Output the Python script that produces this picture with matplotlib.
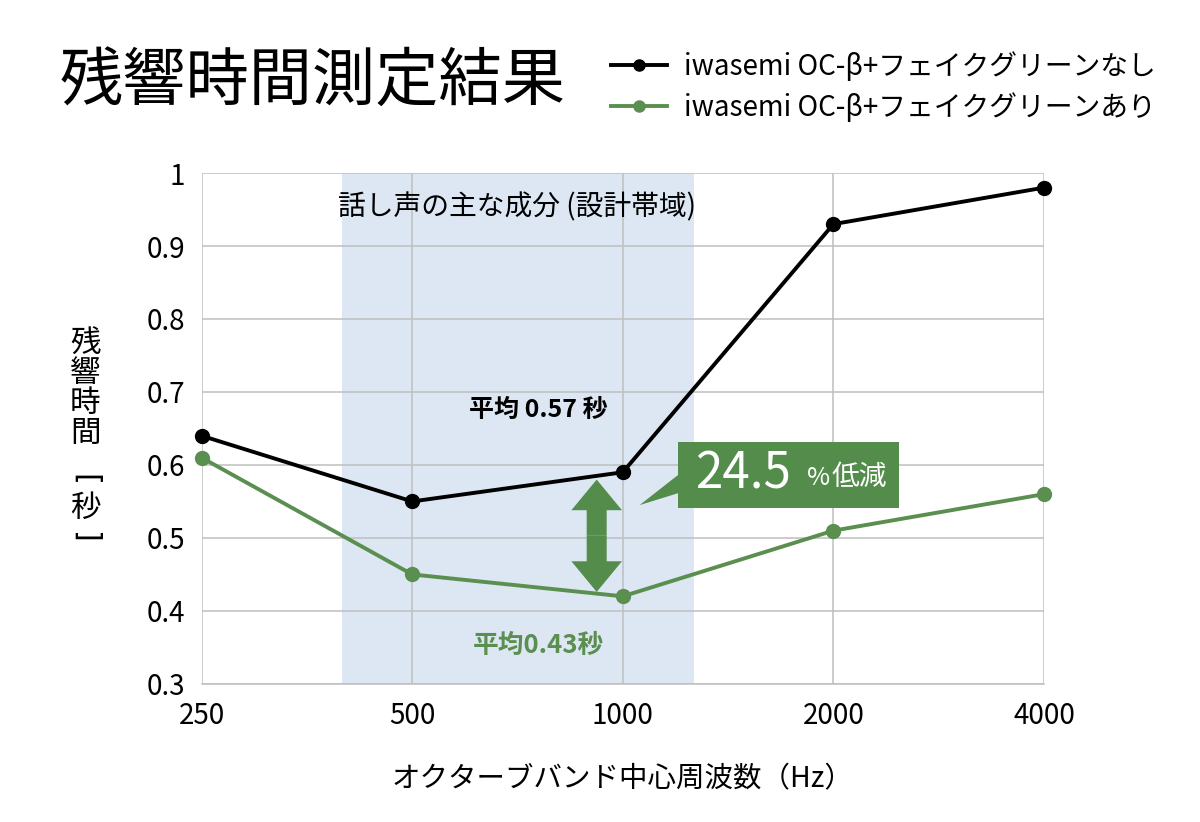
import matplotlib
matplotlib.use('Agg')
import matplotlib.pyplot as plt
from matplotlib.patches import Rectangle, FancyArrow, Polygon

plt.rcParams['font.family'] = ['Noto Sans CJK JP', 'DejaVu Sans']

# data
freqs = ['250', '500', '1000', '2000', '4000']
rt_without = [0.64, 0.55, 0.59, 0.93, 0.98]
rt_with = [0.61, 0.45, 0.42, 0.51, 0.56]
yticks = [0.3, 0.4, 0.5, 0.6, 0.7, 0.8, 0.9, 1.0]
ytick_labels = ['0.3', '0.4', '0.5', '0.6', '0.7', '0.8', '0.9', '1']
label_without = 'iwasemi OC-β+フェイクグリーンなし'
label_with = 'iwasemi OC-β+フェイクグリーンあり'
band = (0.665, 2.34)

green = '#5a8f50'
box_green = '#548c4c'
x = list(range(len(freqs)))

fig = plt.figure(figsize=(12, 8.22), dpi=100)
ax = fig.add_axes([0.168, 0.168, 0.702, 0.6215])

ax.axvspan(band[0], band[1], color='#dce7f3', zorder=0, lw=0)
ax.plot(x, rt_without, color='black', lw=2.8, marker='o', ms=10, label=label_without,
        zorder=3, clip_on=False)
ax.plot(x, rt_with, color=green, lw=2.8, marker='o', ms=10, label=label_with,
        zorder=3, clip_on=False)

ax.set_xlim(0, 4)
ax.set_ylim(0.3, 1.0)
ax.set_xticks(x)
ax.set_xticklabels(freqs, fontsize=20)
ax.set_yticks(yticks)
ax.set_yticklabels(ytick_labels, fontsize=20)
ax.tick_params(length=0, pad=12)
ax.grid(True, color='#bfbfbf', lw=1.1, zorder=1)
ax.set_axisbelow(True)
for s in ['top', 'right', 'left']:
    ax.spines[s].set_visible(False)
ax.spines['bottom'].set_color('#bfbfbf')
ax.spines['bottom'].set_linewidth(1.1)

ax.set_xlabel('オクターブバンド中心周波数（Hz）', fontsize=20.5, labelpad=24)

# vertical y label
fig.text(0.071, 0.527, '\n'.join('残響時間'), fontsize=22, ha='center', va='center',
         linespacing=0.95)
fig.text(0.071, 0.416, '[', fontsize=22, ha='center', va='center', rotation=-90,
         family='DejaVu Sans')
fig.text(0.071, 0.381, '秒', fontsize=22, ha='center', va='center')
fig.text(0.071, 0.347, ']', fontsize=22, ha='center', va='center', rotation=-90,
         family='DejaVu Sans')

fig.text(0.05, 0.9, '残響時間測定結果', fontsize=45.5, ha='left', va='center')

fig.legend(loc='center left', bbox_to_anchor=(0.498, 0.894), frameon=False,
           fontsize=20, handlelength=2.0, handletextpad=0.6, labelspacing=0.4,
           borderpad=0, markerscale=0.8)

ax.text(1.5, 0.953, '話し声の主な成分 (設計帯域)', fontsize=20, ha='center', va='center')
ax.text(1.6, 0.675, '平均 0.57 秒', fontsize=18, fontweight='bold', ha='center', va='center')
ax.text(1.6, 0.353, '平均0.43秒', fontsize=18.5, fontweight='bold', color=green,
        ha='center', va='center')

# double arrow
ax.add_patch(FancyArrow(1.876, 0.503, 0, 0.077, width=0.095, head_width=0.24,
                        head_length=0.042, length_includes_head=True,
                        color=box_green, lw=0, zorder=4))
ax.add_patch(FancyArrow(1.876, 0.503, 0, -0.077, width=0.095, head_width=0.24,
                        head_length=0.042, length_includes_head=True,
                        color=box_green, lw=0, zorder=4))

# callout box
ax.add_patch(Rectangle((2.26, 0.541), 1.05, 0.09, color=box_green, lw=0, zorder=4))
ax.add_patch(Polygon([(2.27, 0.588), (2.27, 0.562), (2.08, 0.545)], closed=True,
                     color=box_green, lw=0, zorder=4))
ax.text(2.345, 0.587, '24.5', fontsize=35.5, color='white', ha='left', va='center', zorder=5)
ax.text(2.875, 0.582, '%', fontsize=18, color='white', ha='left', va='center', zorder=5)
ax.text(2.99, 0.583, '低減', fontsize=20, color='white', ha='left', va='center', zorder=5)

fig.savefig('out.png', dpi=100)
